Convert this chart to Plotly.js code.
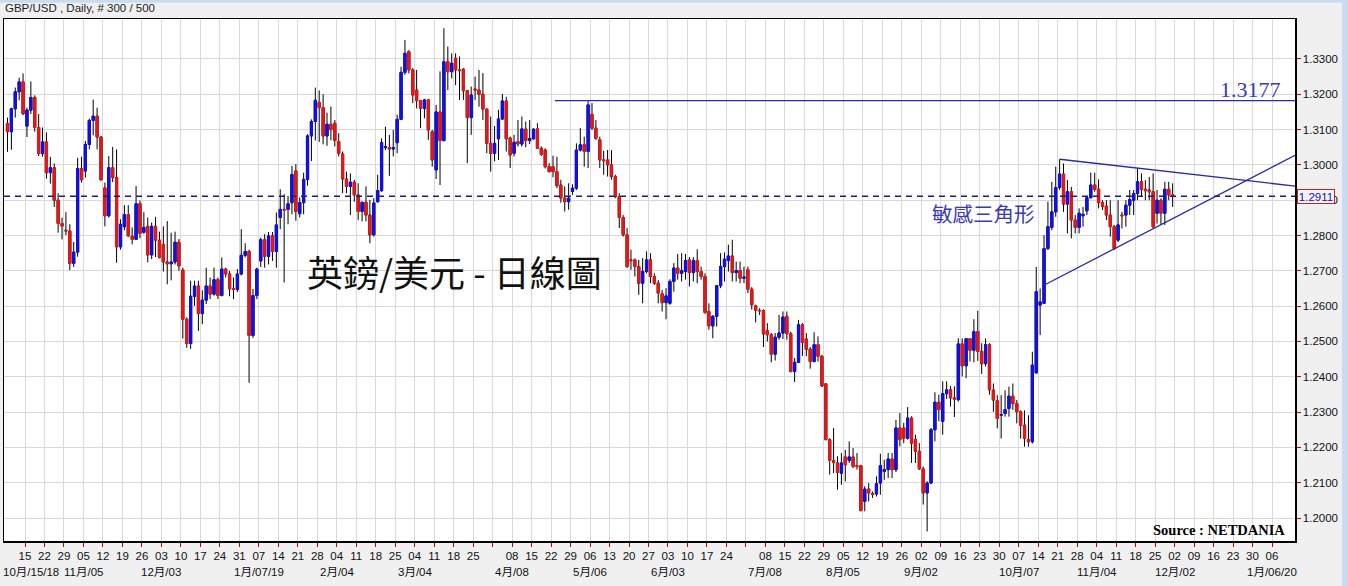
<!DOCTYPE html>
<html><head><meta charset="utf-8">
<script src="https://cdn.plot.ly/plotly-3.0.1.min.js"></script>
<style>html,body{margin:0;padding:0;background:#f0f0f0;overflow:hidden}#chart{width:1347px;height:586px}</style>
</head><body><div id="chart"></div>
<script>
const dates = [
'2018-10-08','2018-10-09','2018-10-10','2018-10-11','2018-10-12',
'2018-10-15','2018-10-16','2018-10-17','2018-10-18','2018-10-19',
'2018-10-22','2018-10-23','2018-10-24','2018-10-25','2018-10-26',
'2018-10-29','2018-10-30','2018-10-31','2018-11-01','2018-11-02',
'2018-11-05','2018-11-06','2018-11-07','2018-11-08','2018-11-09',
'2018-11-12','2018-11-13','2018-11-14','2018-11-15','2018-11-16',
'2018-11-19','2018-11-20','2018-11-21','2018-11-22','2018-11-23',
'2018-11-26','2018-11-27','2018-11-28','2018-11-29','2018-11-30',
'2018-12-03','2018-12-04','2018-12-05','2018-12-06','2018-12-07',
'2018-12-10','2018-12-11','2018-12-12','2018-12-13','2018-12-14',
'2018-12-17','2018-12-18','2018-12-19','2018-12-20','2018-12-21',
'2018-12-24','2018-12-25','2018-12-26','2018-12-27','2018-12-28',
'2018-12-31','2019-01-01','2019-01-02','2019-01-03','2019-01-04',
'2019-01-07','2019-01-08','2019-01-09','2019-01-10','2019-01-11',
'2019-01-14','2019-01-15','2019-01-16','2019-01-17','2019-01-18',
'2019-01-21','2019-01-22','2019-01-23','2019-01-24','2019-01-25',
'2019-01-28','2019-01-29','2019-01-30','2019-01-31','2019-02-01',
'2019-02-04','2019-02-05','2019-02-06','2019-02-07','2019-02-08',
'2019-02-11','2019-02-12','2019-02-13','2019-02-14','2019-02-15',
'2019-02-18','2019-02-19','2019-02-20','2019-02-21','2019-02-22',
'2019-02-25','2019-02-26','2019-02-27','2019-02-28','2019-03-01',
'2019-03-04','2019-03-05','2019-03-06','2019-03-07','2019-03-08',
'2019-03-11','2019-03-12','2019-03-13','2019-03-14','2019-03-15',
'2019-03-18','2019-03-19','2019-03-20','2019-03-21','2019-03-22',
'2019-03-25','2019-03-26','2019-03-27','2019-03-28','2019-03-29',
'2019-04-01','2019-04-02','2019-04-03','2019-04-04','2019-04-05',
'2019-04-08','2019-04-09','2019-04-10','2019-04-11','2019-04-12',
'2019-04-15','2019-04-16','2019-04-17','2019-04-18','2019-04-19',
'2019-04-22','2019-04-23','2019-04-24','2019-04-25','2019-04-26',
'2019-04-29','2019-04-30','2019-05-01','2019-05-02','2019-05-03',
'2019-05-06','2019-05-07','2019-05-08','2019-05-09','2019-05-10',
'2019-05-13','2019-05-14','2019-05-15','2019-05-16','2019-05-17',
'2019-05-20','2019-05-21','2019-05-22','2019-05-23','2019-05-24',
'2019-05-27','2019-05-28','2019-05-29','2019-05-30','2019-05-31',
'2019-06-03','2019-06-04','2019-06-05','2019-06-06','2019-06-07',
'2019-06-10','2019-06-11','2019-06-12','2019-06-13','2019-06-14',
'2019-06-17','2019-06-18','2019-06-19','2019-06-20','2019-06-21',
'2019-06-24','2019-06-25','2019-06-26','2019-06-27','2019-06-28',
'2019-07-01','2019-07-02','2019-07-03','2019-07-04','2019-07-05',
'2019-07-08','2019-07-09','2019-07-10','2019-07-11','2019-07-12',
'2019-07-15','2019-07-16','2019-07-17','2019-07-18','2019-07-19',
'2019-07-22','2019-07-23','2019-07-24','2019-07-25','2019-07-26',
'2019-07-29','2019-07-30','2019-07-31','2019-08-01','2019-08-02',
'2019-08-05','2019-08-06','2019-08-07','2019-08-08','2019-08-09',
'2019-08-12','2019-08-13','2019-08-14','2019-08-15','2019-08-16',
'2019-08-19','2019-08-20','2019-08-21','2019-08-22','2019-08-23',
'2019-08-26','2019-08-27','2019-08-28','2019-08-29','2019-08-30',
'2019-09-02','2019-09-03','2019-09-04','2019-09-05','2019-09-06',
'2019-09-09','2019-09-10','2019-09-11','2019-09-12','2019-09-13',
'2019-09-16','2019-09-17','2019-09-18','2019-09-19','2019-09-20',
'2019-09-23','2019-09-24','2019-09-25','2019-09-26','2019-09-27',
'2019-09-30','2019-10-01','2019-10-02','2019-10-03','2019-10-04',
'2019-10-07','2019-10-08','2019-10-09','2019-10-10','2019-10-11',
'2019-10-14','2019-10-15','2019-10-16','2019-10-17','2019-10-18',
'2019-10-21','2019-10-22','2019-10-23','2019-10-24','2019-10-25',
'2019-10-28','2019-10-29','2019-10-30','2019-10-31','2019-11-01',
'2019-11-04','2019-11-05','2019-11-06','2019-11-07','2019-11-08',
'2019-11-11','2019-11-12','2019-11-13','2019-11-14','2019-11-15',
'2019-11-18','2019-11-19','2019-11-20','2019-11-21','2019-11-22',
'2019-11-25','2019-11-26','2019-11-27','2019-11-28','2019-11-29'
];
const openP = [
1.3117,1.3094,1.3159,1.3207,1.3235, 1.3110,1.3155,1.3191,1.3106,1.3032,
1.3065,1.2978,1.2992,1.2900,1.2834, 1.2815,1.2813,1.2721,1.2753,1.2990,
1.2983,1.3058,1.3126,1.3138,1.3079, 1.2935,1.2856,1.2992,1.2964,1.2768,
1.2825,1.2859,1.2798,1.2789,1.2890, 1.2809,1.2826,1.2745,1.2826,1.2787,
1.2775,1.2725,1.2720,1.2725,1.2781, 1.2702,1.2563,1.2494,1.2628,1.2657,
1.2579,1.2617,1.2657,1.2634,1.2675, 1.2630,1.2705,1.2691,1.2649,1.2647,
1.2691,1.2744,1.2755,1.2517,1.2630, 1.2728,1.2788,1.2741,1.2799,1.2755,
1.2851,1.2874,1.2874,1.2893,1.2983, 1.2862,1.2893,1.2959,1.3082,1.3123,
1.3177,1.3162,1.3082,1.3115,1.3118, 1.3066,1.3031,1.2960,1.2939,1.2951,
1.2915,1.2868,1.2894,1.2858,1.2802, 1.2896,1.2927,1.3049,1.3049,1.3045,
1.3063,1.3129,1.3262,1.3321,1.3269, 1.3212,1.3182,1.3160,1.3184,1.3094,
1.2986,1.3150,1.3069,1.3292,1.3264, 1.3302,1.3269,1.3271,1.3210,1.3134,
1.3215,1.3212,1.3200,1.3158,1.3061, 1.3033,1.3074,1.3130,1.3181,1.3076,
1.3033,1.3066,1.3059,1.3101,1.3069, 1.3074,1.3102,1.3047,1.3042,1.2995,
1.2995,1.2981,1.2943,1.2906,1.2896, 1.2925,1.2934,1.3042,1.3057,1.3038,
1.3143,1.3104,1.3071,1.3014,1.3014, 1.3000,1.2967,1.2910,1.2851,1.2802,
1.2731,1.2731,1.2712,1.2665,1.2698, 1.2731,1.2684,1.2665,1.2635,1.2610,
1.2608,1.2670,1.2708,1.2693,1.2698, 1.2731,1.2695,1.2729,1.2698,1.2684,
1.2585,1.2544,1.2571,1.2658,1.2712, 1.2729,1.2742,1.2695,1.2701,1.2679,
1.2703,1.2648,1.2601,1.2588,1.2587, 1.2530,1.2519,1.2464,1.2512,1.2524,
1.2571,1.2522,1.2415,1.2441,1.2547, 1.2507,1.2478,1.2443,1.2491,1.2458,
1.2380,1.2222,1.2163,1.2156,1.2127, 1.2173,1.2163,1.2173,1.2148,1.2148,
1.2047,1.2082,1.2069,1.2068,1.2099, 1.2132,1.2137,1.2167,1.2137,1.2255,
1.2255,1.2226,1.2283,1.2222,1.2189, 1.2139,1.2071,1.2099,1.2250,1.2328,
1.2274,1.2352,1.2363,1.2340,1.2335, 1.2493,1.2431,1.2508,1.2475,1.2528,
1.2472,1.2437,1.2491,1.2362,1.2332, 1.2291,1.2296,1.2310,1.2345,1.2324,
1.2301,1.2263,1.2222,1.2216,1.2411, 1.2603,1.2608,1.2763,1.2823,1.2867,
1.2936,1.2974,1.2889,1.2924,1.2844, 1.2823,1.2856,1.2870,1.2907,1.2943,
1.2931,1.2893,1.2883,1.2858,1.2825, 1.2787,1.2858,1.2858,1.2886,1.2900,
1.2919,1.2952,1.2931,1.2929,1.2924, 1.2863,1.2900,1.2863,1.2931,1.2915
];
const highP = [
1.3134,1.3162,1.3219,1.3247,1.3259, 1.3162,1.3236,1.3197,1.3144,1.3106,
1.3092,1.3023,1.3004,1.2920,1.2851, 1.2866,1.2832,1.2782,1.3020,1.3023,
1.3068,1.3131,1.3185,1.3162,1.3082, 1.2950,1.3025,1.3051,1.3044,1.2846,
1.2886,1.2886,1.2823,1.2940,1.2899, 1.2866,1.2851,1.2837,1.2853,1.2811,
1.2826,1.2841,1.2808,1.2811,1.2790, 1.2709,1.2568,1.2672,1.2672,1.2672,
1.2645,1.2709,1.2681,1.2709,1.2681, 1.2738,1.2709,1.2700,1.2681,1.2705,
1.2818,1.2778,1.2760,1.2649,1.2709, 1.2794,1.2804,1.2810,1.2810,1.2865,
1.2931,1.2917,1.2912,1.2997,1.3002, 1.2908,1.2978,1.3087,1.3129,1.3219,
1.3211,1.3200,1.3148,1.3165,1.3127, 1.3090,1.3038,1.2981,1.2976,1.2958,
1.2948,1.2896,1.2939,1.2901,1.2906, 1.2972,1.3075,1.3108,1.3085,1.3099,
1.3142,1.3278,1.3354,1.3325,1.3274, 1.3269,1.3184,1.3187,1.3186,1.3099,
1.3170,1.3265,1.3387,1.3335,1.3316, 1.3316,1.3307,1.3274,1.3212,1.3222,
1.3250,1.3269,1.3260,1.3160,1.3137, 1.3110,1.3156,1.3201,1.3193,1.3080,
1.3085,1.3127,1.3137,1.3123,1.3127, 1.3104,1.3118,1.3052,1.3047,1.3005,
1.3026,1.3023,1.2958,1.2939,1.2948, 1.2945,1.3061,1.3104,1.3080,1.3180,
1.3175,1.3127,1.3080,1.3040,1.3042, 1.3042,1.2972,1.2920,1.2858,1.2821,
1.2760,1.2735,1.2731,1.2736,1.2755, 1.2750,1.2693,1.2674,1.2646,1.2651,
1.2676,1.2722,1.2748,1.2750,1.2748, 1.2739,1.2739,1.2761,1.2712,1.2693,
1.2608,1.2575,1.2660,1.2750,1.2752, 1.2774,1.2788,1.2726,1.2726,1.2712,
1.2712,1.2654,1.2604,1.2594,1.2591, 1.2552,1.2524,1.2524,1.2575,1.2585,
1.2585,1.2528,1.2453,1.2561,1.2552, 1.2524,1.2484,1.2526,1.2514,1.2462,
1.2382,1.2226,1.2255,1.2175,1.2184, 1.2193,1.2217,1.2198,1.2184,1.2151,
1.2090,1.2099,1.2075,1.2118,1.2182, 1.2165,1.2184,1.2184,1.2278,1.2297,
1.2269,1.2314,1.2288,1.2236,1.2212, 1.2146,1.2104,1.2255,1.2356,1.2349,
1.2387,1.2387,1.2374,1.2373,1.2509, 1.2509,1.2509,1.2509,1.2563,1.2587,
1.2495,1.2509,1.2495,1.2381,1.2348, 1.2348,1.2362,1.2372,1.2381,1.2334,
1.2305,1.2305,1.2291,1.2471,1.2711, 1.2650,1.2801,1.2896,1.2952,1.2995,
1.3016,1.3004,1.2957,1.2938,1.2858, 1.2877,1.2881,1.2910,1.2978,1.2978,
1.2959,1.2900,1.2900,1.2900,1.2830, 1.2900,1.2867,1.2900,1.2929,1.2929,
1.2990,1.2976,1.2957,1.2966,1.2976, 1.2929,1.2905,1.2952,1.2952,1.2948
];
const lowP = [
1.3037,1.3043,1.3134,1.3183,1.3141, 1.3079,1.3144,1.3094,1.3025,1.3023,
1.2961,1.2947,1.2881,1.2808,1.2789, 1.2801,1.2702,1.2711,1.2740,1.2950,
1.2964,1.3044,1.3084,1.3044,1.2955, 1.2826,1.2851,1.2951,1.2723,1.2760,
1.2815,1.2796,1.2775,1.2787,1.2792, 1.2805,1.2724,1.2733,1.2739,1.2735,
1.2698,1.2662,1.2673,1.2718,1.2700, 1.2508,1.2482,1.2479,1.2601,1.2530,
1.2549,1.2606,1.2620,1.2630,1.2620, 1.2628,1.2681,1.2628,1.2620,1.2640,
1.2687,1.2738,1.2383,1.2510,1.2620, 1.2711,1.2709,1.2718,1.2728,1.2709,
1.2818,1.2667,1.2832,1.2860,1.2842, 1.2851,1.2860,1.2941,1.3011,1.3069,
1.3065,1.3058,1.3054,1.3070,1.3052, 1.3024,1.2920,1.2920,1.2858,1.2896,
1.2844,1.2840,1.2840,1.2778,1.2797, 1.2893,1.2924,1.3042,1.2969,1.3024,
1.3033,1.3127,1.3255,1.3259,1.3175, 1.3160,1.3104,1.3132,1.3071,1.2995,
1.2960,1.2943,1.3066,1.3212,1.3245, 1.3226,1.3184,1.3184,1.3005,1.3085,
1.3184,1.3165,1.3127,1.3033,1.2981, 1.3010,1.3014,1.3127,1.3038,1.2991,
1.3024,1.3052,1.3052,1.3050,1.3059, 1.3071,1.3045,1.3025,1.2990,1.2978,
1.2965,1.2934,1.2893,1.2868,1.2873, 1.2915,1.2929,1.3038,1.2995,1.2991,
1.3099,1.3071,1.2991,1.2972,1.2967, 1.2958,1.2906,1.2821,1.2797,1.2708,
1.2703,1.2684,1.2632,1.2608,1.2693, 1.2665,1.2660,1.2608,1.2585,1.2563,
1.2604,1.2641,1.2675,1.2670,1.2675, 1.2656,1.2670,1.2665,1.2675,1.2578,
1.2533,1.2509,1.2542,1.2651,1.2670, 1.2698,1.2670,1.2670,1.2665,1.2665,
1.2637,1.2590,1.2554,1.2575,1.2484, 1.2500,1.2441,1.2446,1.2505,1.2507,
1.2505,1.2412,1.2385,1.2439,1.2459, 1.2458,1.2423,1.2441,1.2443,1.2371,
1.2220,1.2123,1.2127,1.2080,1.2094, 1.2104,1.2156,1.2141,1.2137,1.2019,
1.2019,1.2047,1.2057,1.2061,1.2066, 1.2108,1.2113,1.2113,1.2130,1.2203,
1.2212,1.2222,1.2156,1.2156,1.2137, 1.2038,1.1962,1.2096,1.2217,1.2274,
1.2236,1.2337,1.2316,1.2286,1.2330, 1.2401,1.2396,1.2443,1.2441,1.2445,
1.2408,1.2429,1.2349,1.2301,1.2254, 1.2225,1.2287,1.2287,1.2306,1.2268,
1.2225,1.2202,1.2202,1.2211,1.2409, 1.2518,1.2606,1.2759,1.2815,1.2853,
1.2929,1.2867,1.2806,1.2792,1.2806, 1.2806,1.2825,1.2858,1.2905,1.2924,
1.2877,1.2872,1.2844,1.2797,1.2759, 1.2782,1.2820,1.2825,1.2858,1.2858,
1.2900,1.2910,1.2900,1.2900,1.2820, 1.2834,1.2830,1.2830,1.2900,1.2881
];
const closeP = [
1.3094,1.3159,1.3207,1.3235,1.3145, 1.3155,1.3191,1.3106,1.3032,1.3065,
1.2978,1.2992,1.2900,1.2834,1.2827, 1.2813,1.2721,1.2753,1.2990,1.2958,
1.3058,1.3126,1.3138,1.3079,1.2958, 1.2856,1.2992,1.2964,1.2768,1.2832,
1.2859,1.2799,1.2789,1.2890,1.2806, 1.2823,1.2745,1.2826,1.2787,1.2738,
1.2725,1.2720,1.2725,1.2781,1.2714, 1.2563,1.2494,1.2628,1.2657,1.2579,
1.2617,1.2657,1.2634,1.2675,1.2630, 1.2705,1.2691,1.2649,1.2647,1.2691,
1.2744,1.2755,1.2517,1.2630,1.2705, 1.2788,1.2741,1.2799,1.2755,1.2830,
1.2874,1.2872,1.2890,1.2973,1.2868, 1.2893,1.2959,1.3082,1.3123,1.3183,
1.3162,1.3082,1.3115,1.3100,1.3069, 1.3033,1.2960,1.2939,1.2951,1.2915,
1.2868,1.2894,1.2858,1.2802,1.2892, 1.2927,1.3063,1.3052,1.3045,1.3049,
1.3129,1.3262,1.3316,1.3269,1.3198, 1.3182,1.3160,1.3184,1.3099,1.3014,
1.3150,1.3069,1.3292,1.3264,1.3288, 1.3269,1.3267,1.3210,1.3134,1.3198,
1.3212,1.3200,1.3158,1.3061,1.3033, 1.3061,1.3130,1.3181,1.3074,1.3028,
1.3064,1.3059,1.3102,1.3069,1.3075, 1.3101,1.3047,1.3030,1.2995,1.2981,
1.2981,1.2941,1.2906,1.2896,1.2906, 1.2934,1.3042,1.3057,1.3038,1.3170,
1.3104,1.3075,1.3014,1.3012,1.3000, 1.2967,1.2910,1.2851,1.2802,1.2712,
1.2729,1.2712,1.2665,1.2698,1.2731, 1.2684,1.2665,1.2637,1.2610,1.2629,
1.2670,1.2708,1.2693,1.2701,1.2729, 1.2695,1.2729,1.2698,1.2684,1.2582,
1.2544,1.2571,1.2658,1.2712,1.2733, 1.2742,1.2695,1.2701,1.2679,1.2682,
1.2648,1.2604,1.2588,1.2587,1.2521, 1.2519,1.2464,1.2512,1.2524,1.2569,
1.2522,1.2415,1.2441,1.2547,1.2497, 1.2478,1.2443,1.2491,1.2458,1.2374,
1.2222,1.2163,1.2157,1.2129,1.2156, 1.2151,1.2173,1.2146,1.2146,1.2021,
1.2082,1.2071,1.2067,1.2097,1.2148, 1.2137,1.2167,1.2137,1.2255,1.2222,
1.2226,1.2283,1.2212,1.2189,1.2139, 1.2071,1.2099,1.2250,1.2328,1.2307,
1.2352,1.2363,1.2340,1.2337,1.2493, 1.2431,1.2508,1.2475,1.2528,1.2472,
1.2437,1.2491,1.2363,1.2334,1.2282, 1.2293,1.2307,1.2345,1.2324,1.2301,
1.2263,1.2225,1.2216,1.2433,1.2641, 1.2612,1.2763,1.2825,1.2867,1.2936,
1.2974,1.2889,1.2924,1.2844,1.2823, 1.2863,1.2860,1.2907,1.2943,1.2931,
1.2893,1.2883,1.2858,1.2825,1.2763, 1.2830,1.2856,1.2886,1.2902,1.2919,
1.2952,1.2931,1.2927,1.2924,1.2825, 1.2900,1.2863,1.2931,1.2915,1.2911
];
const weekTicks = ['2018-10-15','2018-10-22','2018-10-29','2018-11-05','2018-11-12','2018-11-19','2018-11-26','2018-12-03','2018-12-10','2018-12-17','2018-12-24','2018-12-31',
'2019-01-07','2019-01-14','2019-01-21','2019-01-28','2019-02-04','2019-02-11','2019-02-18','2019-02-25','2019-03-04','2019-03-11','2019-03-18','2019-03-25',
'2019-04-01','2019-04-08','2019-04-15','2019-04-22','2019-04-29','2019-05-06','2019-05-13','2019-05-20','2019-05-27','2019-06-03','2019-06-10','2019-06-17','2019-06-24',
'2019-07-01','2019-07-08','2019-07-15','2019-07-22','2019-07-29','2019-08-05','2019-08-12','2019-08-19','2019-08-26','2019-09-02','2019-09-09','2019-09-16','2019-09-23','2019-09-30',
'2019-10-07','2019-10-14','2019-10-21','2019-10-28','2019-11-04','2019-11-11','2019-11-18','2019-11-25','2019-12-02','2019-12-09','2019-12-16','2019-12-23','2019-12-30','2020-01-06'];
const weekLabels = ['15','22','29','05','12','19','26','03','10','17','24','31',
'07','14','21','28','04','11','18','25','04','11','18','25',
'','08','15','22','29','06','13','20','27','03','10','17','24',
'','08','15','22','29','05','12','19','26','02','09','16','23','30',
'07','14','21','28','04','11','18','25','02','09','16','23','30','06'];
const monthTicks = ['2018-10-15','2018-11-05','2018-12-03','2019-01-07','2019-02-04','2019-03-04','2019-04-08','2019-05-06','2019-06-03','2019-07-08','2019-08-05','2019-09-02','2019-10-07','2019-11-04','2019-12-02','2020-01-06'];
const monthLabels = ['10月/15/18','11月/05','12月/03','1月/07/19','2月/04','3月/04','4月/08','5月/06','6月/03','7月/08','8月/05','9月/02','10月/07','11月/04','12月/02','1月/06/20'];
const priceTicks = [1.20,1.21,1.22,1.23,1.24,1.25,1.26,1.27,1.28,1.29,1.30,1.31,1.32,1.33];
const lastPrice = 1.2911;
const resistanceLevel = 1.3182;
const resistanceLabel = '1.3177';
const resistanceStart = '2019-04-23';
const triUpperX = ['2019-10-21 12:00', '2020-01-13 21:40'];
const triUpperY = [1.3016, 1.2940];
const triLowerX = ['2019-10-15 14:00', '2020-01-13 21:40'];
const triLowerY = [1.2660, 1.3027];

const xStart = '2018-10-05 14:38', xEnd = '2020-01-13 21:40';
const xs = dates.map(d => d + ' 12:00');
const bodyHigh = openP.map((o, i) => Math.max(o, closeP[i]));
const bodyLow = openP.map((o, i) => Math.min(o, closeP[i]));
const BLUE = '#1010e8', RED = '#e81818', GUIDE = '#2a2aa6';
const sans = 'Liberation Sans, Arial, Noto Sans CJK TC, sans-serif';

const traces = [
  {type:'candlestick', x:xs, open:openP, high:highP, low:lowP, close:closeP, whiskerwidth:0,
   increasing:{line:{color:'#000', width:1}, fillcolor:'#000'},
   decreasing:{line:{color:'#000', width:1}, fillcolor:'#000'}, hoverinfo:'skip'},
  {type:'candlestick', x:xs, open:openP, high:bodyHigh, low:bodyLow, close:closeP, whiskerwidth:0,
   increasing:{line:{color:BLUE, width:1}, fillcolor:BLUE},
   decreasing:{line:{color:RED, width:1}, fillcolor:RED}, hoverinfo:'skip'},
  {type:'scatter', mode:'lines', x:[resistanceStart, xEnd], y:[resistanceLevel, resistanceLevel], line:{color:GUIDE, width:1.2}, hoverinfo:'skip'},
  {type:'scatter', mode:'lines', x:triUpperX, y:triUpperY, line:{color:GUIDE, width:1.3}, hoverinfo:'skip'},
  {type:'scatter', mode:'lines', x:triLowerX, y:triLowerY, line:{color:GUIDE, width:1.3}, hoverinfo:'skip'}
];

const annotations = [
  {xref:'paper', yref:'paper', x:-0.0008, y:1.0211, xanchor:'left', yanchor:'middle', showarrow:false,
   text:'GBP/USD , Daily, # 300 / 500', font:{family:sans, size:11.5, color:'#222'}},
  {xref:'paper', yref:'paper', x:0.3486, y:0.5172, xanchor:'center', yanchor:'middle', showarrow:false,
   text:'英鎊/美元 - 日線圖', font:{family:'Noto Sans CJK TC, sans-serif', size:36, color:'#111'}},
  {xref:'paper', yref:'paper', x:0.9659, y:0.864, xanchor:'center', yanchor:'middle', showarrow:false,
   text:resistanceLabel, font:{family:'Liberation Serif, Times New Roman, serif', size:22, color:'#3a3ab8'}},
  {xref:'paper', yref:'paper', x:0.7591, y:0.6284, xanchor:'center', yanchor:'middle', showarrow:false,
   text:'敏感三角形', font:{family:'Noto Sans CJK TC, sans-serif', size:20.5, color:'#3a3ab8'}},
  {xref:'paper', yref:'paper', x:0.9938, y:0.0211, xanchor:'right', yanchor:'middle', showarrow:false,
   text:'<b>Source : NETDANIA</b>', font:{family:'Liberation Serif, Times New Roman, serif', size:14.5, color:'#000'}},
  {xref:'paper', yref:'y', x:1.0015, y:lastPrice, xanchor:'left', yanchor:'middle', showarrow:false,
   text:lastPrice.toFixed(4), font:{family:sans, size:11.5, color:'#1010c8'}, width:36, height:13, align:'center',
   bordercolor:'#cc2020', borderwidth:1, borderpad:0, bgcolor:'#f4f4f4'}
];
monthTicks.forEach((d, i) => {
  const a = {xref:'x', yref:'paper', x:d, y:-0.0594, xanchor:'center', yanchor:'middle',
    showarrow:false, text:monthLabels[i], font:{family:sans, size:11.5, color:'#111'}};
  if (i === 0) { a.xref = 'paper'; a.x = -0.0025; a.xanchor = 'left'; }
  annotations.push(a);
});

const layout = {
  width:1347, height:586,
  margin:{l:4, r:52, t:19, b:45, pad:0},
  paper_bgcolor:'#f0f0f0', plot_bgcolor:'#ffffff',
  showlegend:false, hovermode:false, dragmode:false,
  boxmode:'overlay', boxgap:0.25, boxgroupgap:0.25,
  xaxis:{type:'date', range:[xStart, xEnd], rangebreaks:[{bounds:['sat','mon']}],
    rangeslider:{visible:false}, tickmode:'array', tickvals:weekTicks, ticktext:weekLabels,
    ticks:'outside', ticklen:4, tickwidth:1, tickcolor:'#cc0000',
    showgrid:true, gridcolor:'#d9d9d9', gridwidth:1, zeroline:false,
    showline:true, linecolor:'#000', linewidth:1.5, mirror:true,
    tickfont:{family:sans, size:11.5, color:'#111'}, fixedrange:true},
  yaxis:{side:'right', range:[1.19349, 1.34132], tickmode:'array', tickvals:priceTicks,
    ticktext:priceTicks.map(v => v.toFixed(4)),
    ticks:'outside', ticklen:4, tickwidth:1, tickcolor:'#cc0000',
    showgrid:true, gridcolor:'#d9d9d9', gridwidth:1, zeroline:false,
    showline:true, linecolor:'#000', linewidth:1.5, mirror:true,
    tickfont:{family:sans, size:11.5, color:'#111'}, fixedrange:true},
  shapes:[
    {type:'line', xref:'paper', yref:'y', x0:0, x1:1, y0:lastPrice, y1:lastPrice,
     line:{color:'#1a1a8a', width:1.5, dash:'6px,5px'}},
    {type:'rect', xref:'paper', yref:'paper', x0:-0.01, x1:1.05, y0:1.031, y1:1.05, line:{width:0}, fillcolor:'#c9dbef', layer:'below'},
    {type:'rect', xref:'paper', yref:'paper', x0:1.0364, x1:1.05, y0:-0.1, y1:1.05, line:{width:0}, fillcolor:'#c9dbef', layer:'below'}
  ],
  annotations:annotations
};
Plotly.newPlot('chart', traces, layout, {displayModeBar:false, staticPlot:true});
</script>
</body></html>
